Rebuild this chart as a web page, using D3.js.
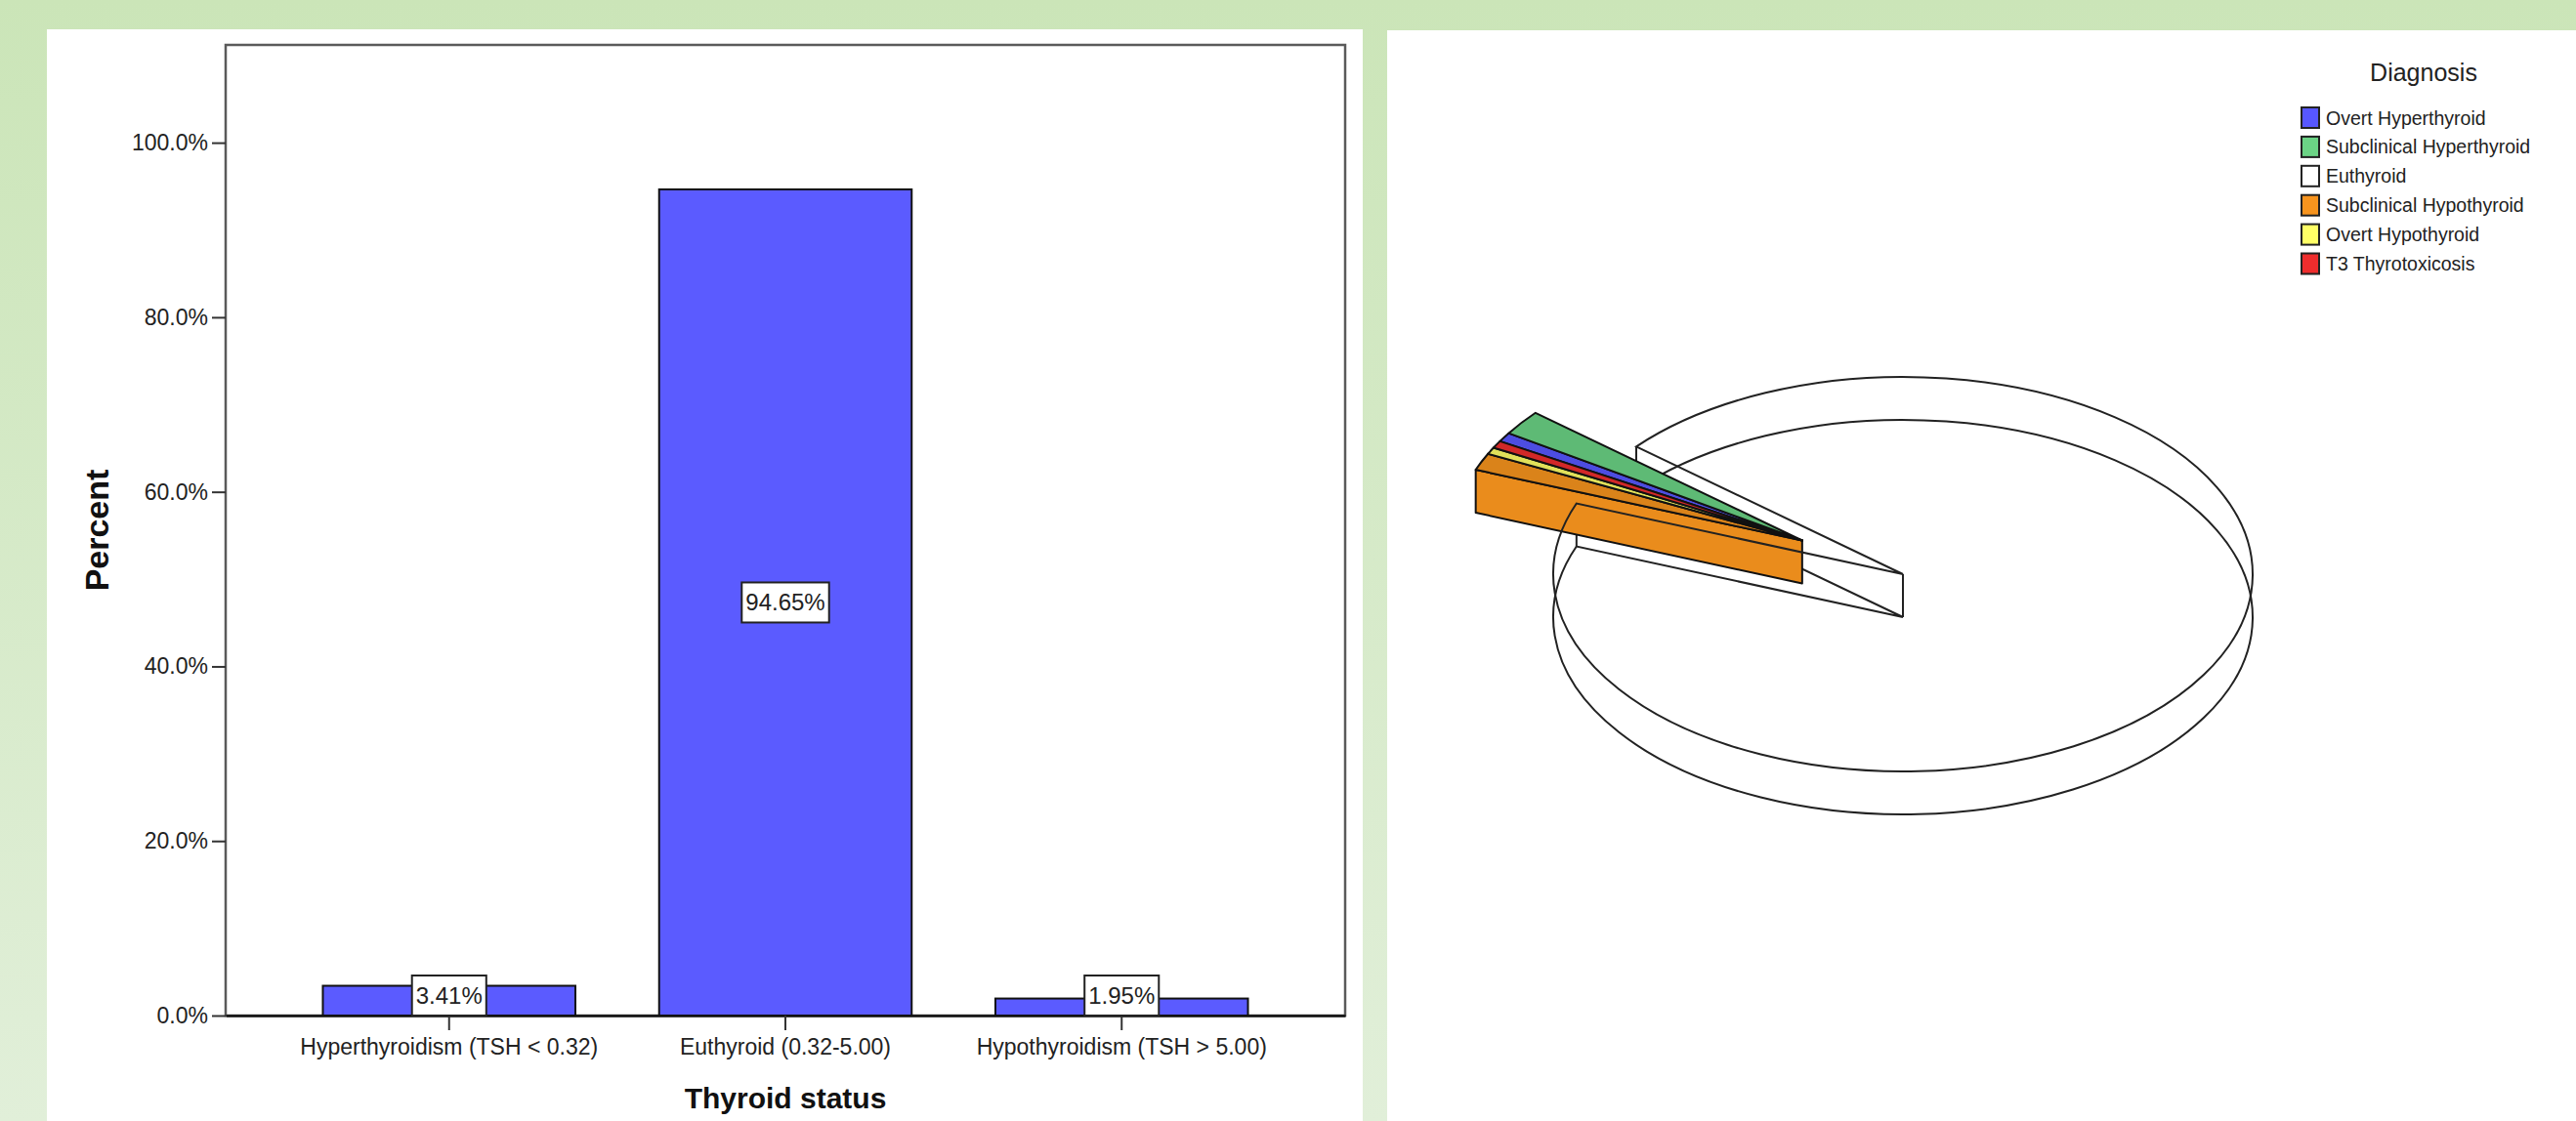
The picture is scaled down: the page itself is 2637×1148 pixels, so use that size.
<!DOCTYPE html>
<html>
<head>
<meta charset="utf-8">
<script src="https://cdn.jsdelivr.net/npm/d3@7"></script>
<style>
  html, body { margin: 0; padding: 0; background: #fff; }
  svg { display: block; }
  text { font-family: "Liberation Sans", Arial, Helvetica, sans-serif; }
</style>
</head>
<body>
<svg id="chart" width="2637" height="1148"></svg>
<script>
// ---- Bar chart data: thyroid status by TSH range ----
const barCategories = ["Hyperthyroidism (TSH < 0.32)", "Euthyroid (0.32-5.00)", "Hypothyroidism (TSH > 5.00)"];
const barPercents = [3.41, 94.65, 1.95];
const yTickValues = [0, 20, 40, 60, 80, 100];

// ---- Pie chart data: diagnosis breakdown ----
const diagnosisLabels = ["Overt Hyperthyroid", "Subclinical Hyperthyroid", "Euthyroid",
                         "Subclinical Hypothyroid", "Overt Hypothyroid", "T3 Thyrotoxicosis"];
const diagnosisPercents = [0.76, 2.05, 94.65, 1.40, 0.55, 0.60];
const diagnosisColors = ["#5757ff", "#6bd385", "#ffffff", "#f7941e", "#ffff66", "#ee2d2d"];
const diagnosisExploded = [true, true, false, true, true, true];

const svg = d3.select("#chart");
const defs = svg.append("defs");

// page background and the two white panels
const bg = defs.append("linearGradient").attr("id", "pageBg")
  .attr("x1", 0).attr("y1", 0).attr("x2", 0).attr("y2", 1);
bg.append("stop").attr("offset", "0%").attr("stop-color", "#cbe5b8");
bg.append("stop").attr("offset", "100%").attr("stop-color", "#e1efd9");
svg.append("rect").attr("width", 2637).attr("height", 1148).attr("fill", "url(#pageBg)");
svg.append("rect").attr("x", 48).attr("y", 30).attr("width", 1347).attr("height", 1118).attr("fill", "#fff");
svg.append("rect").attr("x", 1420).attr("y", 31).attr("width", 1217).attr("height", 1117).attr("fill", "#fff");

// ================= Bar chart =================
const plot = { left: 231, right: 1377, top: 46, bottom: 1040 };
const x = d3.scaleBand().domain(barCategories)
  .range([plot.left, plot.right]).paddingInner(0.249).paddingOuter(0.289);
const y = d3.scaleLinear().domain([0, 111.2]).range([plot.bottom, plot.top]);

const bar = svg.append("g");

// plot frame
bar.append("rect")
  .attr("x", plot.left).attr("y", plot.top)
  .attr("width", plot.right - plot.left).attr("height", plot.bottom - plot.top)
  .attr("fill", "none").attr("stroke", "#5a5a5a").attr("stroke-width", 2.5);

// bars
bar.selectAll("rect.bar").data(barCategories).join("rect")
  .attr("class", "bar")
  .attr("x", d => x(d))
  .attr("y", (d, i) => y(barPercents[i]))
  .attr("width", x.bandwidth())
  .attr("height", (d, i) => y(0) - y(barPercents[i]))
  .attr("fill", "#5b5bff").attr("stroke", "#111").attr("stroke-width", 2);

// y axis
const yAxis = bar.append("g").attr("transform", `translate(${plot.left},0)`)
  .call(d3.axisLeft(y).tickValues(yTickValues).tickFormat(d => d.toFixed(1) + "%")
    .tickSize(14).tickPadding(4).tickSizeOuter(0));
yAxis.select(".domain").remove();
yAxis.selectAll(".tick line").attr("stroke", "#333").attr("stroke-width", 2);
yAxis.selectAll(".tick text").attr("font-size", 23).attr("fill", "#222")
  .style("font-family", '"Liberation Sans", Arial, sans-serif');

// x axis
const xAxis = bar.append("g").attr("transform", `translate(0,${plot.bottom})`)
  .call(d3.axisBottom(x).tickSize(15).tickPadding(9).tickSizeOuter(0));
xAxis.select(".domain").attr("stroke", "#111").attr("stroke-width", 2.5);
xAxis.selectAll(".tick line").attr("stroke", "#333").attr("stroke-width", 2);
xAxis.selectAll(".tick text").attr("font-size", 23).attr("fill", "#222")
  .style("font-family", '"Liberation Sans", Arial, sans-serif');

// value labels in boxed tags
const labelH = 41;
barCategories.forEach((c, i) => {
  const v = barPercents[i];
  const cx = x(c) + x.bandwidth() / 2;
  let cy = (y(v) + y(0)) / 2;
  cy = Math.min(cy, y(0) - labelH / 2);
  const g = bar.append("g");
  const t = g.append("text")
    .attr("x", cx).attr("y", cy).attr("dy", "0.35em")
    .attr("text-anchor", "middle").attr("font-size", 24).attr("fill", "#222")
    .text(v.toFixed(2) + "%");
  const w = t.node().getComputedTextLength() + 8;
  g.insert("rect", "text")
    .attr("x", cx - w / 2).attr("y", cy - labelH / 2)
    .attr("width", w).attr("height", labelH)
    .attr("fill", "#fff").attr("stroke", "#222").attr("stroke-width", 2);
});

// axis titles
bar.append("text")
  .attr("transform", "translate(111,543) rotate(-90)")
  .attr("text-anchor", "middle").attr("font-size", 34).attr("font-weight", "bold")
  .attr("fill", "#111").text("Percent");
bar.append("text")
  .attr("x", (plot.left + plot.right) / 2).attr("y", 1135)
  .attr("text-anchor", "middle").attr("font-size", 30).attr("font-weight", "bold")
  .attr("fill", "#111").text("Thyroid status");

// ================= 3D pie =================
const pie3d = { cx: 1948, cy: 588, rx: 358, ry: 202, depth: 44, explode: 0.335, startDeg: -59.8 };
const rx = pie3d.rx, ry = pie3d.ry, depth = pie3d.depth;
const pieData = diagnosisLabels.map((label, i) => ({
  label, value: diagnosisPercents[i], color: diagnosisColors[i], exploded: diagnosisExploded[i]
}));
const a0 = pie3d.startDeg * Math.PI / 180;
const arcs = d3.pie().sort(null).value(d => d.value)
  .startAngle(a0).endAngle(a0 + 2 * Math.PI)(pieData);

// common pull-out direction for the exploded slices (weighted circular mean)
let sx = 0, sy = 0;
arcs.filter(a => a.data.exploded).forEach(a => {
  const m = (a.startAngle + a.endAngle) / 2, w = a.endAngle - a.startAngle;
  sx += Math.sin(m) * w; sy += Math.cos(m) * w;
});
const midA = Math.atan2(sx, sy);
const pullOut = [pie3d.explode * rx * Math.sin(midA), -pie3d.explode * ry * Math.cos(midA)];

const centerOf = a => a.data.exploded
  ? [pie3d.cx + pullOut[0], pie3d.cy + pullOut[1]]
  : [pie3d.cx, pie3d.cy];
const pt = (ang, c, dz) => [c[0] + rx * Math.sin(ang), c[1] - ry * Math.cos(ang) + dz];
const P = p => `${p[0].toFixed(2)},${p[1].toFixed(2)}`;
function sectorPath(s, e, c, dz) {
  const p0 = pt(s, c, dz), p1 = pt(e, c, dz);
  const large = (e - s) > Math.PI ? 1 : 0;
  return `M${P([c[0], c[1] + dz])}L${P(p0)}A${rx},${ry} 0 ${large} 1 ${P(p1)}Z`;
}
function cutFace(ang, c) {
  const p = pt(ang, c, 0), q = pt(ang, c, depth);
  return `M${P(c)}L${P(p)}L${P(q)}L${P([c[0], c[1] + depth])}Z`;
}

const pie = svg.append("g");
const layerBack = pie.append("g"), layerSide = pie.append("g"),
      layerTopOutline = pie.append("g"), layerTop = pie.append("g");
const n = arcs.length;

arcs.forEach((a, i) => {
  const c = centerOf(a);
  if (!a.data.exploded) {
    // transparent slice: bottom rim, edges and top rim drawn as outlines
    layerBack.append("path").attr("d", sectorPath(a.startAngle, a.endAngle, c, depth))
      .attr("fill", "none").attr("stroke", "#222").attr("stroke-width", 2);
    [pt(a.startAngle, c, 0), pt(a.endAngle, c, 0), c].forEach(p => {
      layerBack.append("line").attr("x1", p[0]).attr("y1", p[1]).attr("x2", p[0]).attr("y2", p[1] + depth)
        .attr("stroke", "#222").attr("stroke-width", 2);
    });
    layerTopOutline.append("path").attr("d", sectorPath(a.startAngle, a.endAngle, c, 0))
      .attr("fill", "none").attr("stroke", "#222").attr("stroke-width", 2);
  } else {
    const prev = arcs[(i - 1 + n) % n], next = arcs[(i + 1) % n];
    const sideFill = d3.color(a.data.color).darker(0.15).formatHex();
    // visible cut faces at the ends of the pulled-out group
    if (!prev.data.exploded && Math.sin(a.startAngle) < 0) {
      layerSide.append("path").attr("d", cutFace(a.startAngle, c))
        .attr("fill", sideFill).attr("stroke", "#111").attr("stroke-width", 2).attr("stroke-linejoin", "round");
    }
    if (!next.data.exploded && Math.sin(a.endAngle) > 0) {
      layerSide.append("path").attr("d", cutFace(a.endAngle, c))
        .attr("fill", sideFill).attr("stroke", "#111").attr("stroke-width", 2).attr("stroke-linejoin", "round");
    }
    // front rim wall where it faces the viewer
    const s = Math.max(a.startAngle, Math.PI / 2), e = Math.min(a.endAngle, 3 * Math.PI / 2);
    if (e > s) {
      const p0 = pt(s, c, 0), p1 = pt(e, c, 0), q0 = pt(s, c, depth), q1 = pt(e, c, depth);
      layerSide.append("path")
        .attr("d", `M${P(p0)}A${rx},${ry} 0 0 1 ${P(p1)}L${P(q1)}A${rx},${ry} 0 0 0 ${P(q0)}Z`)
        .attr("fill", sideFill).attr("stroke", "#111").attr("stroke-width", 2);
    }
    layerTop.append("path").attr("d", sectorPath(a.startAngle, a.endAngle, c, 0))
      .attr("fill", d3.color(a.data.color).darker(0.35).formatHex())
      .attr("stroke", "#111").attr("stroke-width", 2).attr("stroke-linejoin", "round");
  }
});

// ---- legend ----
const legend = svg.append("g");
legend.append("text").attr("x", 2481).attr("y", 83).attr("text-anchor", "middle")
  .attr("font-size", 25).attr("fill", "#222").text("Diagnosis");
const rowY = d3.scalePoint().domain(diagnosisLabels).range([120.5, 270]);
diagnosisLabels.forEach((lab, i) => {
  legend.append("rect").attr("x", 2356).attr("y", rowY(lab) - 10.5)
    .attr("width", 18).attr("height", 21)
    .attr("fill", diagnosisColors[i]).attr("stroke", "#222").attr("stroke-width", 2);
  legend.append("text").attr("x", 2381).attr("y", rowY(lab) + 7)
    .attr("font-size", 19.5).attr("fill", "#222").text(lab);
});
</script>
</body>
</html>
